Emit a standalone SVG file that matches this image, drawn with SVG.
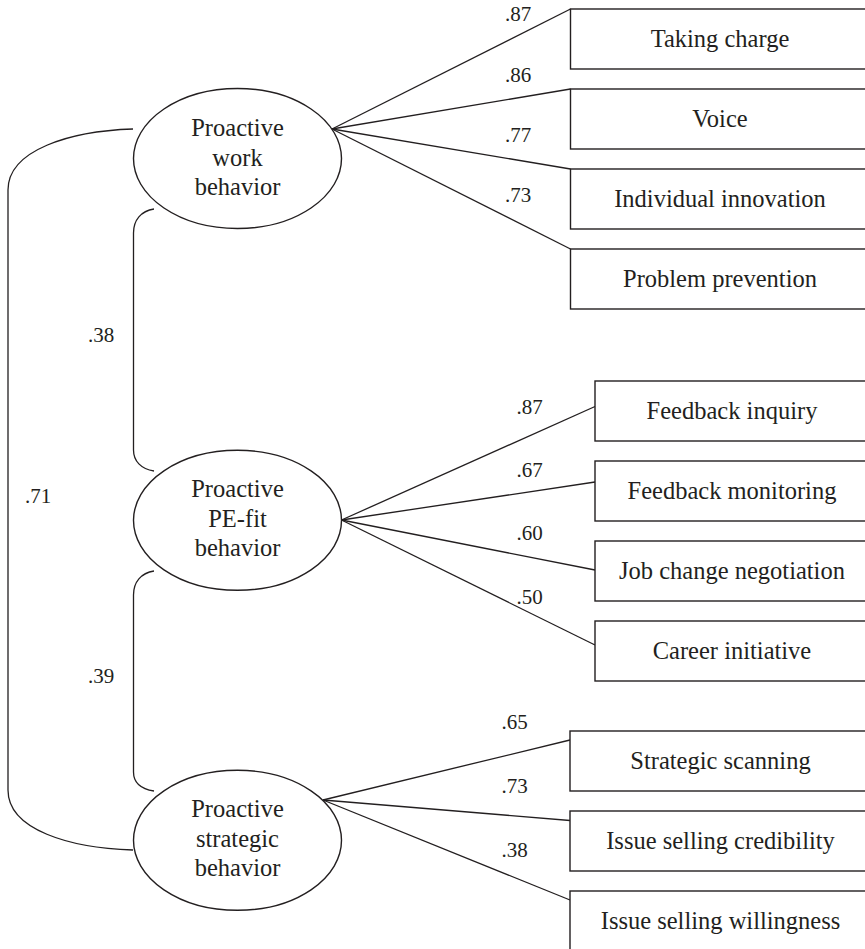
<svg xmlns="http://www.w3.org/2000/svg" width="865" height="949" viewBox="0 0 865 949">
<style>
.bg{fill:#ffffff}
.shape{fill:#ffffff;stroke:#231f20;stroke-width:1.4}
.conn{fill:none;stroke:#231f20;stroke-width:1.3}
.t{font-family:"Liberation Serif","Times New Roman",serif;font-size:24.5px;fill:#231f20;text-anchor:middle}
.n{font-family:"Liberation Serif","Times New Roman",serif;font-size:21px;fill:#231f20}
</style>
<rect class="bg" x="0" y="0" width="865" height="949"/>
<g id="connectors">
  <path class="conn" d="M133,129 C70,131 8,150 8,190 L8,790 C8,830 70,848 133,850"/>
  <path class="conn" d="M154,209 C141,211 133.5,220 133.5,233 L133.5,450 C133.5,461 141,469 154,471"/>
  <path class="conn" d="M154,571 C141,573 133.5,582 133.5,595 L133.5,772 C133.5,783 141,789 154,791"/>
  <line class="conn" x1="332" y1="129" x2="570.5" y2="9"/>
  <line class="conn" x1="332" y1="129" x2="570.5" y2="89"/>
  <line class="conn" x1="332" y1="129" x2="570.5" y2="169"/>
  <line class="conn" x1="332" y1="129" x2="570.5" y2="249"/>
  <line class="conn" x1="341.5" y1="520" x2="595" y2="406.5"/>
  <line class="conn" x1="341.5" y1="520" x2="595" y2="482"/>
  <line class="conn" x1="341.5" y1="520" x2="595" y2="570"/>
  <line class="conn" x1="341.5" y1="520" x2="595" y2="645"/>
  <line class="conn" x1="323" y1="800" x2="570" y2="740"/>
  <line class="conn" x1="323" y1="800" x2="570" y2="820.5"/>
  <line class="conn" x1="323" y1="800" x2="570" y2="900"/>
  <text class="n" x="505" y="21">.87</text>
  <text class="n" x="505" y="81.5">.86</text>
  <text class="n" x="505" y="141.5">.77</text>
  <text class="n" x="505" y="201.5">.73</text>
  <text class="n" x="516.5" y="413.5">.87</text>
  <text class="n" x="516.5" y="476.5">.67</text>
  <text class="n" x="516.5" y="540">.60</text>
  <text class="n" x="516.5" y="603.5">.50</text>
  <text class="n" x="501.5" y="728.5">.65</text>
  <text class="n" x="501.5" y="793">.73</text>
  <text class="n" x="501.5" y="856.5">.38</text>
  <text class="n" x="88" y="341.5">.38</text>
  <text class="n" x="25" y="503">.71</text>
  <text class="n" x="88" y="682.5">.39</text>
</g>
<g id="latent-work">
  <ellipse class="shape" cx="237.5" cy="158.5" rx="104" ry="70"/>
  <text class="t" x="237.5" y="136">Proactive</text>
  <text class="t" x="237.5" y="165.5">work</text>
  <text class="t" x="237.5" y="195">behavior</text>
</g>
<g id="latent-pefit">
  <ellipse class="shape" cx="237.5" cy="520.3" rx="104" ry="70"/>
  <text class="t" x="237.5" y="497">Proactive</text>
  <text class="t" x="237.5" y="526.5">PE-fit</text>
  <text class="t" x="237.5" y="556">behavior</text>
</g>
<g id="latent-strategic">
  <ellipse class="shape" cx="237.5" cy="840.3" rx="104" ry="70"/>
  <text class="t" x="237.5" y="817">Proactive</text>
  <text class="t" x="237.5" y="846.5">strategic</text>
  <text class="t" x="237.5" y="876">behavior</text>
</g>
<g id="taking-charge">
  <rect class="shape" x="570.5" y="9" width="300" height="60"/>
  <text class="t" x="720" y="47">Taking charge</text>
</g>
<g id="voice">
  <rect class="shape" x="570.5" y="89" width="300" height="60"/>
  <text class="t" x="720" y="127">Voice</text>
</g>
<g id="individual-innovation">
  <rect class="shape" x="570.5" y="169" width="300" height="60"/>
  <text class="t" x="720" y="207">Individual innovation</text>
</g>
<g id="problem-prevention">
  <rect class="shape" x="570.5" y="249" width="300" height="60"/>
  <text class="t" x="720" y="287">Problem prevention</text>
</g>
<g id="feedback-inquiry">
  <rect class="shape" x="595" y="381" width="276" height="60"/>
  <text class="t" x="732" y="419">Feedback inquiry</text>
</g>
<g id="feedback-monitoring">
  <rect class="shape" x="595" y="461" width="276" height="60"/>
  <text class="t" x="732" y="499">Feedback monitoring</text>
</g>
<g id="job-change-negotiation">
  <rect class="shape" x="595" y="541" width="276" height="60"/>
  <text class="t" x="732" y="579">Job change negotiation</text>
</g>
<g id="career-initiative">
  <rect class="shape" x="595" y="621" width="276" height="60"/>
  <text class="t" x="732" y="659">Career initiative</text>
</g>
<g id="strategic-scanning">
  <rect class="shape" x="570" y="731" width="301" height="60"/>
  <text class="t" x="720.5" y="769">Strategic scanning</text>
</g>
<g id="issue-selling-credibility">
  <rect class="shape" x="570" y="811" width="301" height="60"/>
  <text class="t" x="720.5" y="849">Issue selling credibility</text>
</g>
<g id="issue-selling-willingness">
  <rect class="shape" x="570" y="891" width="301" height="62"/>
  <text class="t" x="720.5" y="929">Issue selling willingness</text>
</g>
</svg>
